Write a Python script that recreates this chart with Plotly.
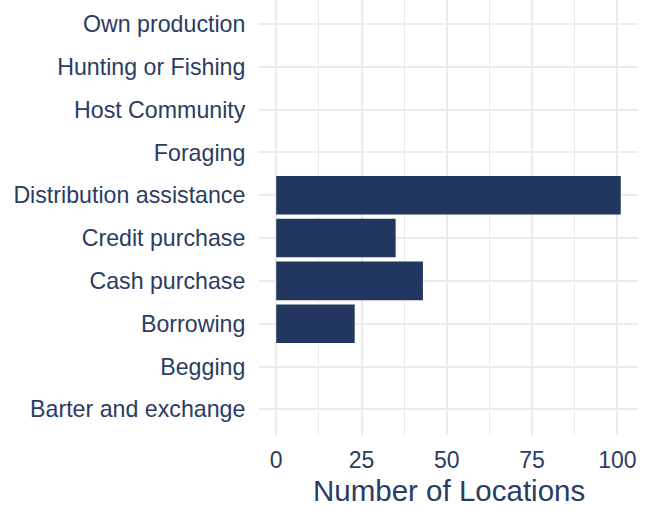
import plotly.graph_objects as go

categories = ["Barter and exchange", "Begging", "Borrowing", "Cash purchase",
              "Credit purchase", "Distribution assistance", "Foraging",
              "Host Community", "Hunting or Fishing", "Own production"]
values = [0, 0, 23, 43, 35, 101, 0, 0, 0, 0]
x_ticks = [0, 25, 50, 75, 100]

bar_color = "#22375f"
text_color = "#2b3c62"
grid_color = "#ebebeb"

fig = go.Figure(go.Bar(
    y=categories, x=values, orientation="h", width=0.9,
    marker=dict(color=bar_color, line=dict(width=0)),
))

fig.update_layout(
    width=654, height=508,
    margin=dict(l=259, r=16, t=0, b=73, autoexpand=False),
    paper_bgcolor="white", plot_bgcolor="white",
    font=dict(family="Liberation Sans, Arial, sans-serif", color=text_color, size=23),
    showlegend=False,
    xaxis=dict(
        range=[-5.05, 106.05], tickvals=x_ticks,
        ticktext=[str(v) for v in x_ticks],
        showgrid=True, gridcolor=grid_color, gridwidth=2,
        zeroline=False, showline=False, automargin=False,
        ticks="outside", ticklen=4, tickcolor="rgba(0,0,0,0)",
        tickfont=dict(size=23, color=text_color),
        minor=dict(dtick=12.5, tick0=0, showgrid=True, gridcolor=grid_color, gridwidth=1.2),
    ),
    yaxis=dict(
        type="category", categoryorder="array", categoryarray=categories,
        range=[-0.6, 9.56],
        showgrid=True, gridcolor=grid_color, gridwidth=2,
        zeroline=False, showline=False, automargin=False,
        ticks="outside", ticklen=8, tickcolor="rgba(0,0,0,0)",
        tickfont=dict(size=23.2, color=text_color),
    ),
    annotations=[dict(
        text="Number of Locations", xref="paper", yref="paper",
        x=0.5, y=-(490.5 - 435) / 435, xanchor="center", yanchor="middle",
        showarrow=False, font=dict(size=29.5, color=text_color),
    )],
)

fig.write_html("out.html", config={"displayModeBar": False},
               post_script="document.body.style.margin='0';document.body.style.overflow='hidden';")
